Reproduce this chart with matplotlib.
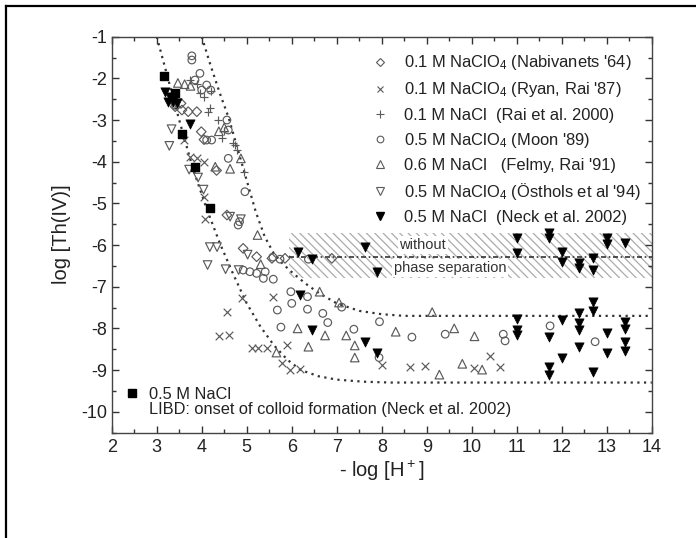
import matplotlib
matplotlib.use("Agg")
import matplotlib.pyplot as plt
from matplotlib.lines import Line2D
import numpy as np

plt.rcParams['font.family'] = ['Liberation Sans', 'DejaVu Sans']
plt.rcParams['mathtext.default'] = 'regular'
plt.rcParams['axes.unicode_minus'] = False
plt.rcParams['hatch.linewidth'] = 0.9
plt.rcParams['hatch.color'] = '#ababab'

# --- data: (-log[H+], log[Th(IV)]) ---
nabivanets_x = [3.41, 3.56, 3.70, 3.89, 3.99, 3.54, 4.33, 4.56, 4.92, 5.22, 5.56, 5.85, 6.89, 4.05]
nabivanets_y = [-2.68, -2.76, -2.80, -2.80, -3.28, -2.60, -4.21, -5.28, -6.08, -6.28, -6.32, -6.32, -6.32, -3.47]

ryan_x = [3.61, 3.74, 3.89, 4.04, 4.04, 4.07, 4.39, 4.61, 4.56, 4.89, 5.11, 5.26, 5.44,
          5.59, 5.89, 5.78, 5.96, 6.18, 8.0, 8.63, 8.96, 10.05, 10.41, 10.63]
ryan_y = [-3.48, -3.88, -3.92, -4.0, -4.84, -5.38, -8.18, -8.16, -7.6, -7.28, -8.48, -8.48, -8.48,
          -7.24, -8.4, -8.84, -9.0, -8.98, -8.88, -8.93, -8.9, -8.96, -8.66, -8.92]

rai_x = [3.74, 3.89, 3.96, 4.04, 4.18, 4.15, 4.37, 4.44, 4.50, 4.70, 4.78, 4.74, 4.95, 4.20]
rai_y = [-2.04, -2.14, -2.36, -2.44, -2.72, -2.80, -3.00, -3.44, -3.27, -3.56, -3.72, -3.59, -4.25, -2.30]

moon_x = [3.78, 3.78, 3.96, 3.85, 4.11, 4.20, 4.00, 4.56, 4.59, 4.22, 4.11, 4.59, 4.96, 4.81,
          4.84, 5.07, 5.22, 5.37, 5.41, 5.59, 4.92, 5.58, 5.74, 6.37, 5.98, 6.00, 6.35, 5.68,
          6.35, 6.69, 6.80, 5.76, 7.38, 7.11, 7.95, 7.94, 8.67, 9.41, 10.70, 10.74, 11.74, 12.74]
moon_y = [-1.46, -1.56, -1.88, -2.04, -2.16, -2.28, -2.28, -3.00, -3.24, -3.48, -3.48, -3.92, -4.72, -5.52,
          -5.44, -6.64, -6.68, -6.80, -6.64, -6.82, -6.60, -6.29, -6.34, -6.34, -7.12, -7.40, -7.24, -7.56,
          -7.54, -7.64, -7.86, -7.97, -8.02, -7.49, -7.84, -8.70, -8.21, -8.14, -8.14, -8.30, -7.94, -8.32]

felmy_x = [3.47, 3.62, 3.75, 4.38, 4.50, 4.87, 4.30, 4.63, 5.24, 5.31, 6.62, 7.05, 6.13, 6.74,
           7.21, 7.40, 5.66, 6.37, 7.40, 9.12, 8.31, 9.61, 10.06, 9.28, 9.79, 10.23]
felmy_y = [-2.11, -2.14, -2.18, -3.27, -3.18, -3.92, -4.12, -4.17, -5.76, -6.46, -7.12, -7.38, -8.00, -8.17,
           -8.17, -8.41, -8.58, -8.44, -8.70, -7.61, -8.08, -8.00, -8.19, -9.11, -8.85, -8.99]

osthols_x = [3.33, 3.28, 3.72, 3.92, 4.04, 4.18, 4.34, 4.13, 4.53, 4.82, 4.63, 4.87, 5.02, 3.38]
osthols_y = [-3.22, -3.62, -4.19, -4.38, -4.67, -6.05, -6.05, -6.48, -6.58, -6.60, -5.32, -5.38, -6.23, -2.65]

neck_x = [3.18, 3.30, 3.37, 3.26, 3.45, 3.74, 6.15, 6.44, 7.63, 7.89, 6.18, 6.44, 7.63, 7.89,
          11.0, 11.0, 11.0, 11.0, 11.0, 11.72, 11.72, 12.0, 12.0, 12.39, 12.39, 12.70, 12.70,
          13.0, 13.0, 13.41, 11.72, 11.72, 11.72, 12.0, 12.0, 12.39, 12.39, 12.39, 12.39,
          12.70, 12.70, 12.70, 13.0, 13.0, 13.41, 13.41, 13.41, 13.41]
neck_y = [-2.32, -2.44, -2.56, -2.56, -2.60, -3.10, -6.16, -6.34, -6.04, -6.64, -7.20, -8.04, -8.32, -8.58,
          -7.78, -8.04, -8.16, -5.84, -6.20, -5.70, -5.84, -6.16, -6.40, -6.44, -6.56, -6.32, -6.60,
          -5.84, -5.98, -5.94, -8.20, -8.92, -9.12, -7.80, -8.72, -7.64, -7.86, -8.04, -8.44,
          -7.36, -7.58, -9.04, -8.12, -8.58, -7.84, -8.02, -8.32, -8.54]

libd_x = [3.17, 3.40, 3.57, 3.84, 4.19]
libd_y = [-1.94, -2.35, -3.33, -4.12, -5.12]

# model curves (dotted)
curve1_x = [3.0, 3.5, 3.8, 4.1, 4.4, 4.7, 5.0, 5.3, 5.6, 5.9, 6.2, 6.6, 7.0, 7.6, 8.2, 14.0]
curve1_y = [-1.0, -3.0, -4.15, -5.1, -5.95, -6.7, -7.4, -7.95, -8.4, -8.75, -9.0, -9.15, -9.23, -9.28, -9.3, -9.3]
curve2_x = [4.0, 4.2, 4.4, 4.6, 4.8, 5.0, 5.2, 5.4, 5.6, 5.8, 6.0, 6.3, 6.6, 7.0, 7.5, 8.0, 8.5, 14.0]
curve2_y = [-1.0, -1.7, -2.35, -2.95, -3.7, -4.45, -5.2, -5.8, -6.2, -6.45, -6.65, -6.92, -7.15, -7.4, -7.58, -7.66, -7.7, -7.7]

band_x = [5.95, 14.0]
band_low, band_high = -6.8, -5.7
amorph_x = [5.95, 14.0]
amorph_y = [-6.28, -6.28]

labels = ["0.1 M NaClO$_4$ (Nabivanets '64)",
          "0.1 M NaClO$_4$ (Ryan, Rai '87)",
          "0.1 M NaCl  (Rai et al. 2000)",
          "0.5 M NaClO$_4$ (Moon '89)",
          "0.6 M NaCl   (Felmy, Rai '91)",
          "0.5 M NaClO$_4$ (Östhols et al '94)",
          "0.5 M NaCl  (Neck et al. 2002)"]

gray = '#5a5a5a'
fig = plt.figure(figsize=(6.96, 5.38), dpi=100)
ax = fig.add_axes([0.1605, 0.196, 0.776, 0.7358])

ax.fill_between(band_x, band_low, band_high, facecolor='none', edgecolor='#ababab',
                hatch='\\\\\\\\', linewidth=0, zorder=0)
ax.plot(amorph_x, amorph_y, color='#333333', lw=1.2, ls=(0, (3, 1.6, 1, 1.6)), zorder=1)
ax.plot(curve1_x, curve1_y, color='#333333', lw=1.6, ls=(0, (1, 2)), zorder=1)
ax.plot(curve2_x, curve2_y, color='#333333', lw=1.6, ls=(0, (1, 2)), zorder=1)

ax.text(8.91, -6.0, "without", fontsize=10.5, ha='center', va='center', color='#333333',
        bbox=dict(facecolor='white', edgecolor='none', pad=1.2), zorder=2)
ax.text(9.52, -6.55, "phase separation", fontsize=10.5, ha='center', va='center', color='#333333',
        bbox=dict(facecolor='white', edgecolor='none', pad=1.2), zorder=2)

ok = dict(facecolors='none', edgecolors=gray, linewidths=0.85, zorder=3)
ax.scatter(nabivanets_x, nabivanets_y, marker='D', s=24, **ok)
ax.scatter(ryan_x, ryan_y, marker='x', s=30, c=gray, linewidths=0.85, zorder=3)
ax.scatter(rai_x, rai_y, marker='+', s=40, c=gray, linewidths=0.85, zorder=3)
ax.scatter(moon_x, moon_y, marker='o', s=30, **ok)
ax.scatter(felmy_x, felmy_y, marker='^', s=38, **ok)
ax.scatter(osthols_x, osthols_y, marker='v', s=38, **ok)
ax.scatter(neck_x, neck_y, marker='v', s=44, c='black', edgecolors='black', linewidths=0.5, zorder=4)
ax.scatter(libd_x, libd_y, marker='s', s=36, c='black', zorder=4)

ax.set_xlim(2, 14)
ax.set_ylim(-10.5, -1)
ax.set_xticks(np.arange(2, 15, 1))
ax.set_yticks(np.arange(-10, 0, 1))
ax.set_xticks(np.arange(2.5, 14, 1), minor=True)
ax.set_yticks(np.arange(-10.5, -1, 1), minor=True)
ax.tick_params(which='both', direction='in', top=True, right=True, colors='#333333',
               labelcolor='#222222', labelsize=13)
ax.tick_params(which='major', length=5, width=1)
ax.tick_params(which='minor', length=3, width=1)
ax.tick_params(axis='x', pad=5)
for sp in ax.spines.values():
    sp.set_color('#444444')
    sp.set_linewidth(1)

ax.set_xlabel("- log [H$^+$]", fontsize=14.5, color='#222222', labelpad=2)
ax.set_ylabel("log [Th(IV)]", fontsize=14.5, color='#222222', labelpad=7)

mk = dict(linestyle='none', markerfacecolor='none', markeredgecolor=gray, markeredgewidth=0.8)
handles = [Line2D([], [], marker='D', markersize=4.2, **mk),
           Line2D([], [], marker='x', markersize=5, linestyle='none', color=gray, markeredgewidth=0.8),
           Line2D([], [], marker='+', markersize=6, linestyle='none', color=gray, markeredgewidth=0.8),
           Line2D([], [], marker='o', markersize=4.8, **mk),
           Line2D([], [], marker='^', markersize=5.5, **mk),
           Line2D([], [], marker='v', markersize=5.5, **mk),
           Line2D([], [], marker='v', markersize=6, linestyle='none', color='black')]
leg = ax.legend(handles, labels, loc='upper left', bbox_to_anchor=(0.483, 0.958), frameon=False,
                fontsize=11.9, handlelength=0.95, handletextpad=0.95, labelspacing=0.49, borderpad=0,
                borderaxespad=0)
for t in leg.get_texts():
    t.set_color('#222222')
ax.add_artist(leg)

h2 = [Line2D([], [], marker='s', markersize=5.5, linestyle='none', color='black'),
      Line2D([], [], linestyle='none')]
leg2 = ax.legend(h2, ["0.5 M NaCl", "LIBD: onset of colloid formation (Neck et al. 2002)"],
                 loc='lower left', bbox_to_anchor=(0.024, 0.04), frameon=False, fontsize=11.8,
                 handlelength=0.95, handletextpad=0.55, labelspacing=-0.02, borderpad=0,
                 borderaxespad=0)
for t in leg2.get_texts():
    t.set_color('#222222')

# black frame lines on top and left edge of the picture
fig.add_artist(Line2D([6 / 696, 1], [1 - 6 / 538, 1 - 6 / 538], color='black', lw=1.6,
                      transform=fig.transFigure))
fig.add_artist(Line2D([6 / 696, 6 / 696], [0, 1 - 6 / 538], color='black', lw=1.6,
                      transform=fig.transFigure))

fig.savefig("out.png", dpi=100)
